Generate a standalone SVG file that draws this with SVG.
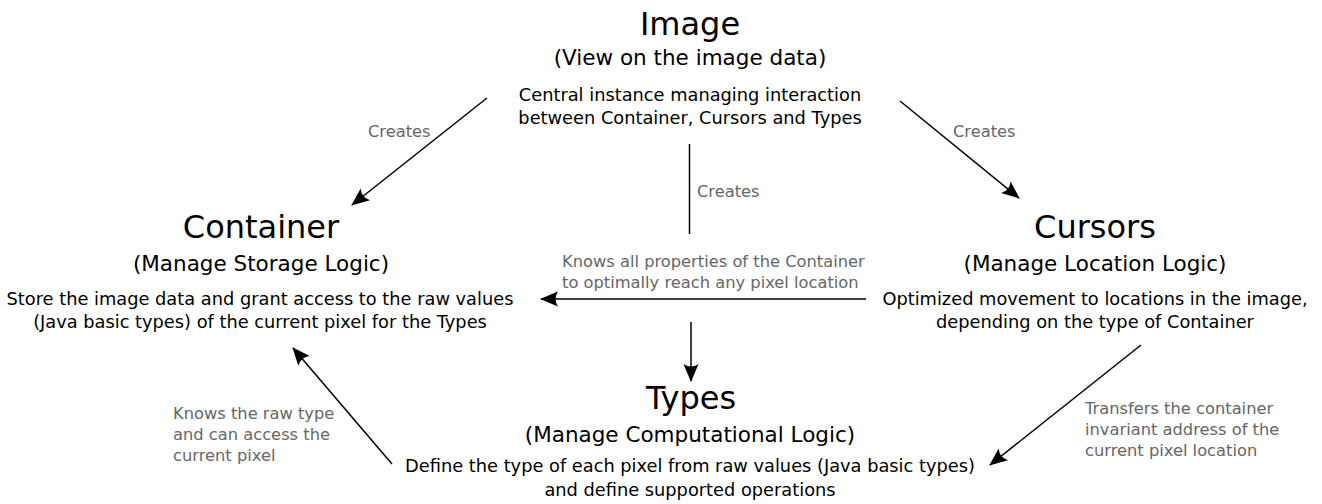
<svg xmlns="http://www.w3.org/2000/svg" width="1322" height="504" viewBox="0 0 1322 504">
  <style>
    text { font-family: "DejaVu Sans", "Liberation Sans", sans-serif; fill: #000; }
    .title { font-size: 32px; text-anchor: middle; }
    .sub { font-size: 21.5px; text-anchor: middle; }
    .desc { font-size: 17.8px; text-anchor: middle; }
    .lbl { font-size: 16.3px; fill: #666666; }
    .edge { stroke: #000; stroke-width: 1.5; fill: none; }
    .arr { marker-end: url(#ah); }
  </style>
  <defs>
    <marker id="ah" markerUnits="userSpaceOnUse" markerWidth="24" markerHeight="20" viewBox="-20 -10 24 20" refX="0" refY="0" orient="auto" overflow="visible">
      <path d="M1,0 L-17,-7.5 Q-12,0 -17,7.5 Z" fill="#000"/>
    </marker>
  </defs>

  <g id="connectors">
    <line class="edge arr" x1="487" y1="98" x2="352" y2="205"/>
    <line class="edge arr" x1="900" y1="101" x2="1019" y2="198"/>
    <line class="edge" x1="689.5" y1="144" x2="689.5" y2="234"/>
    <line class="edge arr" x1="691" y1="322" x2="691" y2="381"/>
    <line class="edge arr" x1="866" y1="299" x2="541" y2="299"/>
    <line class="edge arr" x1="1141" y1="345" x2="990" y2="465"/>
    <line class="edge arr" x1="392" y1="464" x2="293" y2="348"/>
    <text class="lbl" x="368" y="137">Creates</text>
    <text class="lbl" x="953" y="137">Creates</text>
    <text class="lbl" x="697" y="197">Creates</text>
    <text class="lbl" x="562" y="267">Knows all properties of the Container</text>
    <text class="lbl" x="562" y="288">to optimally reach any pixel location</text>
    <text class="lbl" x="1085" y="414">Transfers the container</text>
    <text class="lbl" x="1085" y="435">invariant address of the</text>
    <text class="lbl" x="1085" y="456">current pixel location</text>
    <text class="lbl" x="173" y="419">Knows the raw type</text>
    <text class="lbl" x="173" y="440">and can access the</text>
    <text class="lbl" x="173" y="461">current pixel</text>
  </g>

  <g id="image">
    <text class="title" x="690" y="35">Image</text>
    <text class="sub" x="690" y="65">(View on the image data)</text>
    <text class="desc" x="690" y="101">Central instance managing interaction</text>
    <text class="desc" x="690" y="124">between Container, Cursors and Types</text>
  </g>

  <g id="container">
    <text class="title" x="261" y="238">Container</text>
    <text class="sub" x="261" y="271">(Manage Storage Logic)</text>
    <text class="desc" x="260" y="305">Store the image data and grant access to the raw values</text>
    <text class="desc" x="260" y="328">(Java basic types) of the current pixel for the Types</text>
  </g>

  <g id="cursors">
    <text class="title" x="1095" y="238">Cursors</text>
    <text class="sub" x="1095" y="271">(Manage Location Logic)</text>
    <text class="desc" x="1095" y="305">Optimized movement to locations in the image,</text>
    <text class="desc" x="1095" y="328">depending on the type of Container</text>
  </g>

  <g id="types">
    <text class="title" x="691" y="409">Types</text>
    <text class="sub" x="690" y="442">(Manage Computational Logic)</text>
    <text class="desc" x="690" y="472">Define the type of each pixel from raw values (Java basic types)</text>
    <text class="desc" x="690" y="496">and define supported operations</text>
  </g>
</svg>
